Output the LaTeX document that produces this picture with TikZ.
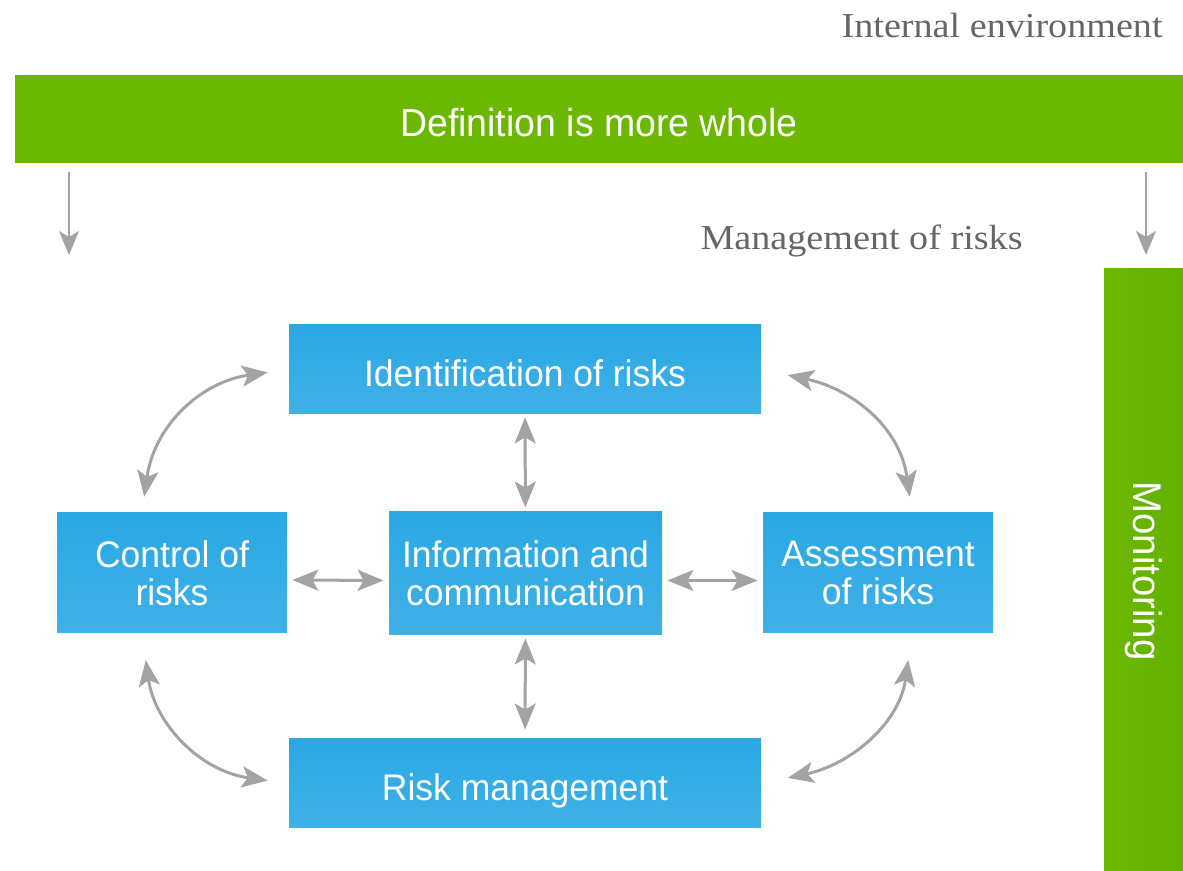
\documentclass[tikz,border=0pt]{standalone}
\usepackage{fontspec}
\setmainfont{Liberation Serif}[FakeStretch=1.09]
\setsansfont{Liberation Sans}[FakeStretch=0.96]
\usetikzlibrary{arrows.meta}
\definecolor{leafgreen}{HTML}{6CB700}
\definecolor{leafdark}{HTML}{62B200}
\definecolor{skyblue}{HTML}{2AA8E4}
\definecolor{skylight}{HTML}{40B0E6}
\definecolor{arrowgray}{HTML}{A3A3A3}
\definecolor{textgray}{HTML}{666666}

\begin{document}
\begin{tikzpicture}[x=0.5pt,y=0.5pt,
  >={Stealth[length=13pt,width=10.5pt,inset=3pt]},
  riskbox/.style={top color=skyblue,bottom color=skylight,inner sep=0pt,
    text=white,align=center,font=\sffamily\fontsize{18.5}{19}\selectfont},
  oneline/.style={text height=17pt,text depth=0pt},
  greenbar/.style={fill=leafgreen,inner sep=0pt,text=white,
    font=\sffamily\fontsize{19.5}{20}\selectfont},
  graylabel/.style={text=textgray,inner sep=0pt,anchor=base east,
    font=\fontsize{17.5}{20}\selectfont},
  link/.style={<->,arrowgray,line width=1.5pt},
  drop/.style={-{Stealth[length=12pt,width=10pt,inset=3pt]},arrowgray,line width=1pt}]
  \useasboundingbox (0,0) rectangle (1183,871);

  % green frame
  \node[greenbar,text height=18pt,text depth=0pt,minimum width=584pt,minimum height=44pt]
    (whole) at (599,752) {Definition is more whole};
  \node[greenbar,left color=leafgreen,right color=leafdark,rotate=-90,
    font=\sffamily\fontsize{20}{20}\selectfont,
    minimum width=302pt,minimum height=39.5pt] (monitor) at (1143.5,300) {Monitoring};
  \node[graylabel] (inner) at (1163,833) {Internal environment};
  \node[graylabel] (manage) at (1023,621) {Management of risks};

  \coordinate (leftdrop) at (69,616);
  \coordinate (rightdrop) at (1146,616);
  \draw[drop,shorten <=4.5pt] (whole.south -| leftdrop) -- (leftdrop);
  \draw[drop,shorten <=4.5pt] (whole.south -| rightdrop) -- (rightdrop);

  % the risk cycle
  \node[riskbox,oneline,minimum width=236pt,minimum height=44.5pt] (ident) at (525,501.5)
    {Identification of risks};
  \node[riskbox,minimum width=115pt,minimum height=60pt] (ctrl) at (172,298)
    {Control of\\risks};
  \node[riskbox,minimum width=136.5pt,minimum height=61.5pt] (info) at (525.5,297.5)
    {Information and\\communication};
  \node[riskbox,minimum width=115pt,minimum height=60pt] (assess) at (878,298)
    {Assessment\\of risks};
  \node[riskbox,oneline,minimum width=236pt,minimum height=44.5pt] (riskm) at (525,87.5)
    {Risk management};

  \draw[link,shorten <=1.5pt,shorten >=2pt] (ident) -- (info);
  \draw[link,shorten <=1.5pt,shorten >=4.5pt] (info) -- (riskm);
  \draw[link,shorten <=2.5pt,shorten >=2.5pt]
    ([yshift=-3.5pt]ctrl.east) -- ([yshift=-3.5pt]info.west);
  \draw[link,shorten <=2.5pt,shorten >=2.5pt]
    ([yshift=-3.5pt]info.east) -- ([yshift=-3.5pt]assess.west |- info.east);

  \draw[link,shorten <=8pt,shorten >=10.5pt]
    ([xshift=-15pt]ctrl.north) to[out=82,in=188,looseness=1.1] (ident.west);
  \draw[link,shorten <=13.5pt,shorten >=10.5pt]
    ([xshift=-15pt]ctrl.south) to[out=-82,in=172,looseness=1.1] (riskm.west);
  \draw[link,shorten <=13.5pt,shorten >=8pt]
    (ident.east) to[out=-12,in=98,looseness=1.1] ([xshift=17pt]assess.north);
  \draw[link,shorten <=13.5pt,shorten >=13.5pt]
    ([xshift=17pt]assess.south) to[out=-98,in=12,looseness=1.1] (riskm.east);
\end{tikzpicture}
\end{document}
